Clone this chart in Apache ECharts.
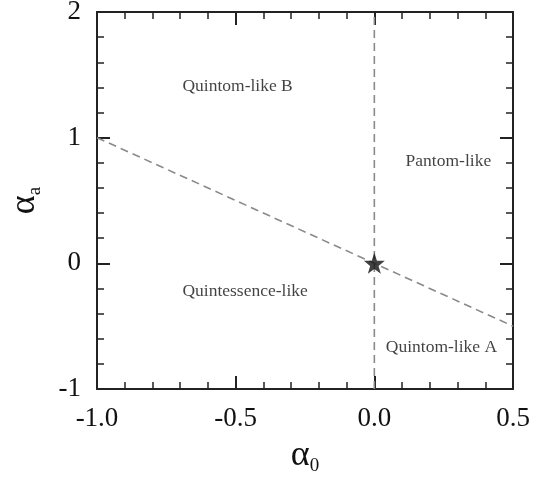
<!DOCTYPE html>
<html>
<head>
<meta charset="utf-8">
<script src="https://cdn.jsdelivr.net/npm/echarts@6/dist/echarts.min.js"></script>
<style>html,body{margin:0;padding:0;background:#fff}#c{width:551px;height:477px}</style>
</head>
<body>
<div id="c"></div>
<script>
// Data
var xRange = [-1.0, 0.5];
var yRange = [-1, 2];
var verticalBoundary = [[0, -1], [0, 2]];
var diagonalBoundary = [[-1, 1], [0.5, -0.5]];
var starPoint = [[0, 0]];
var regionNames = ['Quintom-like B', 'Pantom-like', 'Quintessence-like', 'Quintom-like A'];
var regionX = [-0.493, 0.267, -0.466, 0.242];
var regionY = [1.41, 0.81, -0.22, -0.67];

var FONT = "'Liberation Serif','Times New Roman',serif";
var axisCol = '#222';
var chart = echarts.init(document.getElementById('c'));

function axisCommon(showLabel, isX) {
  return {
    type: 'value',
    min: isX ? xRange[0] : yRange[0],
    max: isX ? xRange[1] : yRange[1],
    interval: isX ? 0.5 : 1,
    splitLine: { show: false },
    axisLine: { show: true, onZero: false, lineStyle: { color: axisCol, width: 2 } },
    axisTick: { show: true, inside: true, length: 13, lineStyle: { color: axisCol, width: 2 } },
    minorTick: { show: true, splitNumber: 5, length: 7, lineStyle: { color: axisCol, width: 1.5 } },
    axisLabel: {
      show: showLabel,
      showMinLabel: true, showMaxLabel: true,
      fontFamily: FONT, fontSize: 27, color: '#111',
      margin: isX ? 16 : 16,
      formatter: function (v) { return isX ? v.toFixed(1) : String(Math.round(v)); }
    }
  };
}

var x0 = axisCommon(true, true);
x0.position = 'bottom';
x0.name = '{a|α}{s|0}';
x0.nameLocation = 'middle';
x0.nameGap = 46;
x0.nameTextStyle = { rich: {
  a: { fontFamily: FONT, fontSize: 36, color: '#111' },
  s: { fontFamily: FONT, fontSize: 19, color: '#111', padding: [22, 0, 0, 0] }
}};
var x1 = axisCommon(false, true);
x1.position = 'top';

var y0 = axisCommon(true, false);
y0.position = 'left';
y0.name = '{a|α}{s|a}';
y0.nameLocation = 'middle';
y0.nameGap = 52;
y0.nameTextStyle = { rich: {
  a: { fontFamily: FONT, fontSize: 36, color: '#111' },
  s: { fontFamily: FONT, fontSize: 19, color: '#111', padding: [22, 0, 0, 0] }
}};
var y1 = axisCommon(false, false);
y1.position = 'right';

var labelData = regionNames.map(function (n, i) { return { value: [regionX[i], regionY[i]], name: n }; });

var dashStyle = { color: '#8a8a8a', width: 1.6, type: [8, 5] };

chart.setOption({
  animation: false,
  backgroundColor: '#fff',
  grid: { left: 97, right: 38, top: 12, bottom: 88, containLabel: false, outerBoundsMode: 'none' },
  xAxis: [x0, x1],
  yAxis: [y0, y1],
  series: [
    { type: 'line', data: verticalBoundary, symbol: 'none', lineStyle: dashStyle, z: 2 },
    { type: 'line', data: diagonalBoundary, symbol: 'none', lineStyle: dashStyle, z: 2 },
    {
      type: 'scatter', data: starPoint, symbolSize: 21, z: 5,
      symbol: 'path://M0,-10 L2.35,-3.24 L9.51,-3.09 L3.8,1.24 L5.88,8.09 L0,4 L-5.88,8.09 L-3.8,1.24 L-9.51,-3.09 L-2.35,-3.24 Z',
      itemStyle: { color: '#111' }
    },
    {
      type: 'scatter', data: labelData, symbolSize: 0, z: 4,
      label: {
        show: true, position: 'inside', formatter: '{b}',
        fontFamily: FONT, fontSize: 17.5, color: '#111'
      }
    }
  ]
});
</script>
</body>
</html>
